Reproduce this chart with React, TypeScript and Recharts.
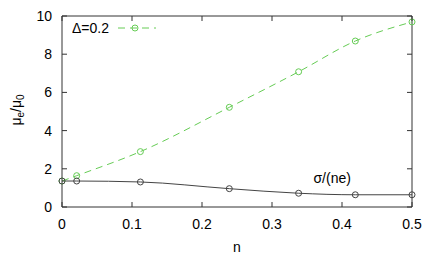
import React from "react";
import {
  LineChart,
  Line,
  XAxis,
  YAxis,
  ReferenceLine,
  ReferenceDot,
} from "recharts";

const nValues = [0, 0.021, 0.112, 0.239, 0.338, 0.419, 0.5];
const mobilityDelta = [1.36, 1.64, 2.9, 5.22, 7.08, 8.69, 9.69];
const sigmaOverNe = [1.36, 1.36, 1.31, 0.96, 0.72, 0.64, 0.64];
const xTicks = [0, 0.1, 0.2, 0.3, 0.4, 0.5];
const yTicks = [0, 2, 4, 6, 8, 10];

const GREEN = "#66cc55";
const DARK = "#444444";
const AXIS = "#333333";
const FONT = "'Liberation Sans', Arial, sans-serif";

const data = nValues.map((n, i) => ({
  n,
  delta: mobilityDelta[i],
  sigma: sigmaOverNe[i],
}));

const W = 436;
const H = 262;
const M = { top: 16, right: 24, bottom: 0, left: 0 };
const X_AXIS_H = 55;
const Y_AXIS_W = 62;
const PLOT_W = W - M.left - M.right - Y_AXIS_W;
const PLOT_H = H - M.top - M.bottom - X_AXIS_H;

const TICK = 5;
const MARGIN = 10;

// inward ticks at the bottom, mirrored at the top
const BottomTick = (props: any) => {
  const { x, y, payload } = props;
  const axisY = y - MARGIN;
  return (
    <g>
      <line x1={x} x2={x} y1={axisY} y2={axisY - TICK} stroke={AXIS} />
      <line x1={x} x2={x} y1={axisY - PLOT_H} y2={axisY - PLOT_H + TICK} stroke={AXIS} />
      <text x={x} y={y + 12} textAnchor="middle" fontSize={14} fill="#000" fontFamily={FONT}>
        {payload.value}
      </text>
    </g>
  );
};

// inward ticks on the left, mirrored on the right
const LeftTick = (props: any) => {
  const { x, y, payload } = props;
  const axisX = x + MARGIN;
  return (
    <g>
      <line x1={axisX} x2={axisX + TICK} y1={y} y2={y} stroke={AXIS} />
      <line x1={axisX + PLOT_W} x2={axisX + PLOT_W - TICK} y1={y} y2={y} stroke={AXIS} />
      <text x={x} y={y + 5} textAnchor="end" fontSize={14} fill="#000" fontFamily={FONT}>
        {payload.value}
      </text>
    </g>
  );
};

const XLabel = (props: any) => {
  const vb = props.viewBox || { x: 62, y: 207, width: 350 };
  return (
    <text x={vb.x + vb.width / 2} y={vb.y + 45} textAnchor="middle" fontSize={14} fontFamily={FONT} fill="#000">
      n
    </text>
  );
};

const YLabel = () => (
  <text
    transform="translate(21,110) rotate(-90)"
    textAnchor="middle"
    fontSize={14}
    fontFamily={FONT}
    fill="#000"
  >
    μ<tspan fontSize={10} dy={3}>e</tspan>
    <tspan dy={-3}>/μ</tspan>
    <tspan fontSize={10} dy={3}>0</tspan>
  </text>
);

export default function App() {
  return (
    <div style={{ position: "absolute", left: 0, top: 0, width: W, height: H }}>
      <LineChart width={W} height={H} data={data} margin={M}>
        <XAxis
          dataKey="n"
          type="number"
          domain={[0, 0.5]}
          ticks={xTicks}
          tickSize={0}
          tickMargin={MARGIN}
          tick={<BottomTick />}
          height={X_AXIS_H}
          stroke={AXIS}
          label={<XLabel />}
        />
        <YAxis
          type="number"
          domain={[0, 10]}
          ticks={yTicks}
          tickSize={0}
          tickMargin={MARGIN}
          tick={<LeftTick />}
          width={Y_AXIS_W}
          stroke={AXIS}
          label={<YLabel />}
        />
        <ReferenceLine y={10} stroke={AXIS} ifOverflow="visible" />
        <ReferenceLine x={0.5} stroke={AXIS} ifOverflow="visible" />
        <Line
          type="monotone"
          dataKey="delta"
          stroke={GREEN}
          strokeDasharray="7 5"
          strokeWidth={1}
          dot={{ r: 3, fill: "none", stroke: GREEN, strokeDasharray: "" }}
          isAnimationActive={false}
        />
        <Line
          type="monotone"
          dataKey="sigma"
          stroke={DARK}
          strokeWidth={1}
          dot={{ r: 3, fill: "none", stroke: DARK }}
          isAnimationActive={false}
        />
        <ReferenceDot
          x={0.386}
          y={1.52}
          r={0}
          stroke="none"
          label={{ value: "σ/(ne)", position: "center", fontSize: 14, fill: "#000", fontFamily: FONT }}
        />
      </LineChart>
      <svg width={100} height={20} style={{ position: "absolute", left: 72, top: 18 }}>
        <text x={0} y={15} fontSize={14} fontFamily={FONT} fill="#000">
          Δ=0.2
        </text>
        <line x1={46} x2={84} y1={10} y2={10} stroke={GREEN} strokeDasharray="7 5" />
        <circle cx={63} cy={10} r={3} fill="none" stroke={GREEN} />
      </svg>
    </div>
  );
}
